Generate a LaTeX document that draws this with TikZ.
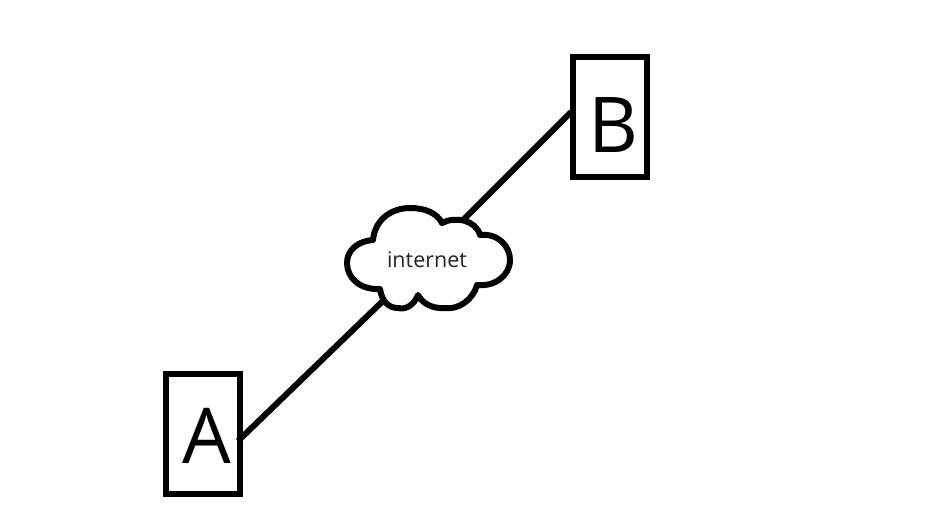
\documentclass[tikz,border=0pt]{standalone}
\usepackage{fontspec}
\setmainfont{Open Sans}
\begin{document}
\begin{tikzpicture}[
        x=1pt,y=-1pt,
        hostbox/.style={draw, rectangle, line width=6pt, minimum width=74pt, minimum height=120pt, inner sep=0pt},
        hostname/.style={inner sep=0pt, font=\fontsize{77}{77}\selectfont},
        netname/.style={inner sep=0pt, font=\fontsize{21.5}{24}\selectfont, text=black!85},
        netcloud/.style={draw, line width=6pt, line join=round, fill=white},
        wire/.style={draw, line width=6pt},
    ]
    \useasboundingbox (0,0) rectangle (941,523);
    \node[hostbox](a) at (203,434){};
    \node[hostbox](b) at (609.5,117){};
    \node[hostname](aname) at (207,436){A};
    \node[hostname](bname) at (613,125){B};
    \coordinate (aend) at (238,441);
    \coordinate (bend) at (571,112);
    \coordinate (netsw) at (387,297);
    \coordinate (netne) at (461,222);
    \draw[wire] (aend) -- (netsw);
    \draw[wire] (netne) -- (bend);
    % cloud outline
    \draw[netcloud] (373,240)
        .. controls (375,219) and (392,208) .. (410,208)
        .. controls (425,208) and (437,213) .. (442,223)
        .. controls (455,216) and (476,220) .. (480,235)
        .. controls (498,233) and (510,246) .. (510,260)
        .. controls (510,276) and (494,287) .. (477,285)
        .. controls (473,300) and (458,310) .. (445,308)
        .. controls (432,309) and (422,303) .. (418,295)
        .. controls (414,305) and (406,310) .. (398,308)
        .. controls (389,308) and (382,302) .. (380,289)
        .. controls (360,290) and (347,278) .. (347,263)
        .. controls (347,250) and (358,241) .. (373,240)
        -- cycle;
    \node[netname](net) at (427,260){internet};
\end{tikzpicture}
\end{document}
